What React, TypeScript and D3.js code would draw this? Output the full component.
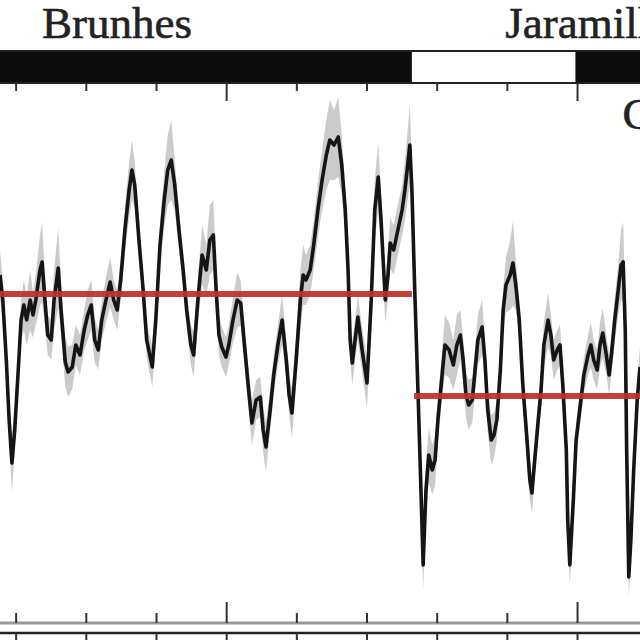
import React, { useRef, useEffect } from 'react';
import * as d3 from 'd3';

// [age (ka), intensity, 1-sigma]
const brunhesRecord: [number, number, number][] = [
  [177, 6.5, 0.5], [181, 6.0, 0.4], [186, 4.8, 0.35], [190, 3.6, 0.4], [194, 2.74, 0.6],
  [198, 3.4, 0.4], [203, 4.6, 0.35], [207, 5.6, 0.4], [211, 5.9, 0.5], [215, 5.6, 0.5],
  [220, 6.0, 0.6], [224, 5.7, 0.45], [228, 6.0, 0.5], [234, 6.6, 0.7], [237, 6.76, 0.8],
  [241, 6.0, 0.5], [245, 5.3, 0.4], [250, 5.2, 0.4], [254, 6.0, 0.6], [260, 6.64, 0.8],
  [264, 5.8, 0.5], [270, 4.76, 0.5], [274, 4.56, 0.5], [280, 4.66, 0.45], [285, 5.1, 0.4],
  [291, 4.9, 0.4], [297, 5.4, 0.4], [302, 5.7, 0.5], [307, 5.9, 0.5], [312, 5.2, 0.45],
  [317, 5.0, 0.4], [322, 5.6, 0.4], [328, 6.0, 0.45], [334, 6.36, 0.5], [339, 6.0, 0.4],
  [344, 5.8, 0.4], [349, 6.4, 0.4], [355, 7.4, 0.45], [361, 8.2, 0.55], [365, 8.6, 0.6],
  [369, 8.3, 0.45], [375, 7.2, 0.35], [381, 6.2, 0.35], [386, 5.2, 0.35], [394, 4.66, 0.4],
  [399, 5.6, 0.4], [405, 7.1, 0.45], [411, 8.0, 0.55], [416, 8.6, 0.7], [421, 8.8, 0.8],
  [426, 8.3, 0.5], [432, 7.4, 0.4], [438, 6.6, 0.35], [443, 5.8, 0.35], [449, 5.1, 0.4],
  [453, 4.9, 0.45], [459, 6.0, 0.45], [465, 6.9, 0.6], [471, 6.6, 0.5], [476, 7.2, 0.7],
  [481, 7.3, 0.7], [485, 6.2, 0.5], [489, 5.3, 0.4], [493, 5.06, 0.4], [499, 4.86, 0.4],
  [503, 5.1, 0.4], [509, 5.6, 0.45], [515, 6.0, 0.55], [520, 5.94, 0.45], [526, 5.0, 0.4],
  [532, 4.1, 0.4], [536, 3.54, 0.45], [542, 4.0, 0.4], [548, 4.06, 0.4], [552, 3.4, 0.45],
  [556, 3.06, 0.5], [562, 3.8, 0.4], [567, 4.5, 0.4], [573, 5.1, 0.4], [579, 5.6, 0.5],
  [585, 4.8, 0.4], [589, 4.1, 0.4], [593, 3.74, 0.5], [599, 4.8, 0.5], [605, 6.0, 0.6],
  [609, 6.5, 0.6], [613, 6.4, 0.5], [619, 6.6, 0.5], [624, 7.1, 0.5], [630, 7.8, 0.55],
  [636, 8.4, 0.6], [642, 8.9, 0.7], [647, 9.2, 0.8], [653, 9.1, 0.7], [659, 9.26, 0.8],
  [664, 8.7, 0.6], [669, 7.8, 0.45], [673, 6.6, 0.4], [676, 5.2, 0.4], [679, 4.74, 0.45],
  [683, 5.2, 0.4], [687, 5.66, 0.45], [693, 5.0, 0.45], [700, 4.34, 0.5], [706, 6.0, 0.5],
  [711, 7.8, 0.6], [716, 8.46, 0.7], [720, 7.6, 0.5], [726, 6.0, 0.45], [730, 6.5, 0.5],
  [733, 7.14, 0.5], [738, 7.0, 0.5], [744, 7.4, 0.5], [750, 7.8, 0.5], [754, 8.2, 0.6],
  [758, 8.7, 0.7], [761, 9.1, 0.8], [764, 8.2, 0.5],
];

const matuyamaRecord: [number, number, number][] = [
  [768, 6.2, 0.4], [773, 4.0, 0.35], [776, 2.6, 0.4], [780, 0.7, 0.5], [784, 2.2, 0.5],
  [788, 2.9, 0.55], [793, 2.6, 0.5], [797, 2.8, 0.5], [801, 3.6, 0.45], [807, 4.5, 0.45],
  [811, 5.1, 0.6], [817, 5.0, 0.55], [823, 4.7, 0.5], [828, 5.1, 0.6], [833, 5.3, 0.5],
  [837, 4.8, 0.45], [841, 4.1, 0.45], [845, 3.9, 0.5], [850, 4.0, 0.45], [854, 4.6, 0.45],
  [858, 5.2, 0.5], [864, 5.46, 0.55], [868, 4.8, 0.4], [872, 3.8, 0.45], [877, 3.2, 0.5],
  [881, 3.3, 0.45], [885, 3.6, 0.4], [890, 4.6, 0.4], [894, 5.8, 0.45], [898, 6.3, 0.55],
  [904, 6.5, 0.7], [908, 6.74, 0.85], [912, 6.3, 0.5], [917, 5.6, 0.4], [922, 4.3, 0.4],
  [928, 3.2, 0.4], [932, 2.4, 0.4], [935, 2.14, 0.4], [939, 2.8, 0.35], [944, 3.6, 0.35],
  [948, 4.2, 0.4], [952, 5.1, 0.45], [958, 5.6, 0.55], [962, 5.3, 0.4], [966, 4.8, 0.4],
  [971, 5.0, 0.4], [975, 5.1, 0.4], [979, 4.3, 0.35], [984, 3.0, 0.35], [986, 1.6, 0.35],
  [989, 0.7, 0.4], [994, 2.0, 0.35], [998, 3.2, 0.35], [1004, 3.9, 0.35], [1009, 4.5, 0.35],
  [1015, 4.9, 0.4], [1019, 5.1, 0.45], [1023, 4.8, 0.4], [1028, 4.6, 0.4], [1032, 5.1, 0.45],
  [1036, 5.34, 0.5], [1041, 4.9, 0.4], [1045, 4.5, 0.4], [1049, 5.0, 0.4], [1053, 5.6, 0.45],
  [1058, 6.2, 0.5], [1062, 6.7, 0.7], [1065, 6.76, 0.8], [1068, 5.4, 0.5], [1070, 3.0, 0.4],
  [1073, 0.46, 0.4], [1076, 1.2, 0.4], [1080, 2.6, 0.4], [1085, 4.0, 0.4], [1089, 4.66, 0.4],
];

// mean intensity per chron: [start ka, end ka, mean]
const chronMeans: [number, number, number][] = [
  [170, 764, 6.12],
  [767, 1100, 4.08],
];

// polarity: [start ka, end ka, normal?]
const polarity: [number, number, boolean][] = [
  [100, 764, true],
  [764, 997, false],
  [997, 1200, true],
];

const chronLabels: [string, number][] = [
  ['Brunhes', 237],
  ['Jaramillo', 897],
];
const subchronLabels: [string, number][] = [['Cobb Mt.', 1064]];

const ageTicks = [200, 300, 400, 500, 600, 700, 800, 900, 1000];
const majorTicks = [500, 1000];

const W = 640;
const H = 640;
const BAR_TOP = 51;
const BAR_BOTTOM = 83;
const AXIS_Y = 623;
const NEXT_AXIS_Y = 633;

const App: React.FC = () => {
  const svgRef = useRef<SVGSVGElement>(null);

  useEffect(() => {
    if (!svgRef.current) return;
    const svg = d3.select(svgRef.current);
    svg.selectAll('*').remove();

    const x = d3.scaleLinear().domain([177, 1089]).range([0, W]);
    const y = d3.scaleLinear().domain([0, 10]).range([600, 100]);

    const record = [...brunhesRecord, ...matuyamaRecord];

    svg.append('rect').attr('width', W).attr('height', H).attr('fill', '#fff');

    // labels
    svg.selectAll('text.chron')
      .data(chronLabels)
      .join('text')
      .attr('class', 'chron')
      .attr('x', d => x(d[1]))
      .attr('y', 38)
      .attr('font-family', '"Liberation Serif", "Times New Roman", serif')
      .attr('font-size', 45)
      .attr('fill', '#222')
      .attr('stroke', '#222')
      .attr('stroke-width', 0.6)
      .text(d => d[0]);

    svg.selectAll('text.sub')
      .data(subchronLabels)
      .join('text')
      .attr('class', 'sub')
      .attr('x', d => x(d[1]))
      .attr('y', 129)
      .attr('font-family', '"Liberation Serif", "Times New Roman", serif')
      .attr('font-size', 45)
      .attr('fill', '#222')
      .attr('stroke', '#222')
      .attr('stroke-width', 0.6)
      .text(d => d[0]);

    // polarity bar
    svg.selectAll('rect.pol')
      .data(polarity)
      .join('rect')
      .attr('class', 'pol')
      .attr('x', d => x(d[0]))
      .attr('y', BAR_TOP)
      .attr('width', d => x(d[1]) - x(d[0]))
      .attr('height', BAR_BOTTOM - BAR_TOP)
      .attr('fill', d => (d[2] ? '#0d0d0d' : '#fff'));

    svg.append('line').attr('x1', 0).attr('x2', W).attr('y1', BAR_TOP).attr('y2', BAR_TOP)
      .attr('stroke', '#222').attr('stroke-width', 2);
    svg.append('line').attr('x1', 0).attr('x2', W).attr('y1', BAR_BOTTOM).attr('y2', BAR_BOTTOM)
      .attr('stroke', '#222').attr('stroke-width', 2);

    // ticks under the bar
    svg.selectAll('line.ttick')
      .data(ageTicks)
      .join('line')
      .attr('class', 'ttick')
      .attr('x1', d => x(d)).attr('x2', d => x(d))
      .attr('y1', BAR_BOTTOM)
      .attr('y2', d => BAR_BOTTOM + (majorTicks.includes(d) ? 18 : 8))
      .attr('stroke', '#333').attr('stroke-width', 2);

    // bottom axis (light) with inward ticks
    svg.append('line').attr('x1', 0).attr('x2', W).attr('y1', AXIS_Y).attr('y2', AXIS_Y)
      .attr('stroke', '#999').attr('stroke-width', 3);
    svg.selectAll('line.btick')
      .data(ageTicks)
      .join('line')
      .attr('class', 'btick')
      .attr('x1', d => x(d)).attr('x2', d => x(d))
      .attr('y1', AXIS_Y)
      .attr('y2', d => AXIS_Y - (majorTicks.includes(d) ? 21 : 10))
      .attr('stroke', '#333').attr('stroke-width', 2);

    // top of the next panel
    svg.append('line').attr('x1', 0).attr('x2', W).attr('y1', NEXT_AXIS_Y).attr('y2', NEXT_AXIS_Y)
      .attr('stroke', '#222').attr('stroke-width', 2.5);
    svg.selectAll('line.ntick')
      .data(ageTicks)
      .join('line')
      .attr('class', 'ntick')
      .attr('x1', d => x(d)).attr('x2', d => x(d))
      .attr('y1', NEXT_AXIS_Y)
      .attr('y2', H)
      .attr('stroke', '#333').attr('stroke-width', 2);

    // uncertainty envelope
    const band = d3.area<[number, number, number]>()
      .x(d => x(d[0]))
      .y0(d => y(d[1] - d[2]))
      .y1(d => y(d[1] + d[2]));
    svg.append('path')
      .datum(record)
      .attr('d', band)
      .attr('fill', '#8c8c8c')
      .attr('opacity', 0.45);

    const line = d3.line<[number, number, number]>()
      .x(d => x(d[0]))
      .y(d => y(d[1]));
    svg.append('path')
      .datum(record)
      .attr('d', line)
      .attr('fill', 'none')
      .attr('stroke', '#151515')
      .attr('stroke-width', 3.6)
      .attr('stroke-linejoin', 'round');

    // chron means
    svg.selectAll('line.mean')
      .data(chronMeans)
      .join('line')
      .attr('class', 'mean')
      .attr('x1', d => x(d[0])).attr('x2', d => x(d[1]))
      .attr('y1', d => y(d[2])).attr('y2', d => y(d[2]))
      .attr('stroke', '#b8342a')
      .attr('stroke-width', 6)
      .attr('opacity', 0.92);
  }, []);

  return (
    <svg
      ref={svgRef}
      width={W}
      height={H}
      style={{ position: 'absolute', left: 0, top: 0 }}
    ></svg>
  );
};

export default App;
